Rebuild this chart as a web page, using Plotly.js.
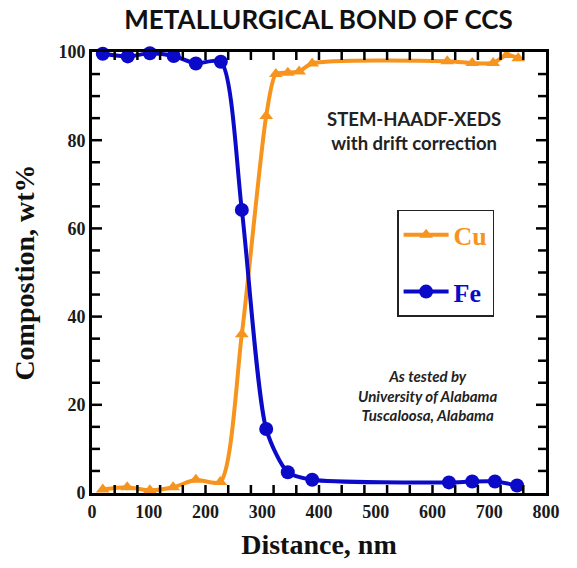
<!DOCTYPE html>
<html>
<head>
<meta charset="utf-8">
<script src="https://cdn.plot.ly/plotly-3.0.1.min.js"></script>
<style>html,body{margin:0;padding:0;background:#fff;}#chart{width:577px;height:568px;}</style>
</head>
<body>
<div id="chart"></div>
<script>
// Data
const cuDistance = [19, 62, 102, 143, 183, 226, 264, 307, 324, 345, 365, 388, 626, 670, 707, 731, 751];
const cuWt = [0.8, 1.3, 0.6, 1.3, 3.0, 2.5, 36, 85.5, 95, 95.3, 95.6, 97.4, 97.9, 97.5, 97.5, 99.3, 98.6];
const feDistance = [19, 63, 102, 144, 183, 227, 264, 307, 345, 388, 629, 670, 710, 749];
const feWt = [99.6, 99.0, 99.7, 99.1, 97.4, 97.8, 64.2, 14.5, 4.7, 3.0, 2.4, 2.6, 2.6, 1.7];
const xRange = [0, 800];
const yRange = [0, 100];
const xTickStep = 100;   // labelled x ticks: 0..800
const xMarkStep = 40;    // x tick marks
const yTickStep = 20;    // labelled y ticks: 0..100
const yMarkStep = 5;     // y tick marks

const orange = '#f7941d';
const blue = '#0a0ac8';

const traces = [
  {
    x: cuDistance, y: cuWt, type: 'scatter', mode: 'lines+markers',
    name: '<b><span style="color:' + orange + '">Cu</span></b>',
    legendgroup: 'cu',
    line: {color: orange, width: 4, shape: 'spline', smoothing: 0.7},
    marker: {symbol: 'triangle-up', size: 12, color: orange},
    cliponaxis: false
  },
  {
    x: feDistance, y: feWt, type: 'scatter', mode: 'lines+markers',
    name: '<b><span style="color:' + blue + '">Fe</span></b>',
    legendgroup: 'fe',
    line: {color: blue, width: 4, shape: 'spline', smoothing: 0.7},
    marker: {symbol: 'circle', size: 14, color: blue},
    cliponaxis: false
  }
];

// Tick marks on all four sides, built from the axis steps
const shapes = [];
const tickLine = {color: '#000', width: 2.5};
for (let v = xRange[0] + xMarkStep; v < xRange[1]; v += xMarkStep) {
  shapes.push({type: 'line', layer: 'above', xref: 'x', yref: 'y', ysizemode: 'pixel', yanchor: yRange[0], x0: v, x1: v, y0: 0, y1: 8, line: tickLine});
  shapes.push({type: 'line', layer: 'above', xref: 'x', yref: 'y', ysizemode: 'pixel', yanchor: yRange[1], x0: v, x1: v, y0: 0, y1: -8, line: tickLine});
}
for (let v = yRange[0] + yMarkStep; v < yRange[1]; v += yMarkStep) {
  const len = (v % yTickStep === 0) ? 10 : 8;
  shapes.push({type: 'line', layer: 'above', xref: 'x', yref: 'y', xsizemode: 'pixel', xanchor: xRange[0], y0: v, y1: v, x0: 0, x1: len, line: tickLine});
  shapes.push({type: 'line', layer: 'above', xref: 'x', yref: 'y', xsizemode: 'pixel', xanchor: xRange[1], y0: v, y1: v, x0: 0, x1: -len, line: tickLine});
}

const serif = 'Liberation Serif, Times New Roman, serif';
const tickFont = {family: serif, size: 18, color: '#1a1a1a'};

const layout = {
  width: 577, height: 568,
  margin: {l: 92, r: 31, t: 52, b: 75},
  paper_bgcolor: '#fff', plot_bgcolor: '#fff',
  showlegend: true,
  title: {
    text: '<b>METALLURGICAL BOND OF CCS</b>',
    font: {family: 'Lato, Open Sans, sans-serif', size: 26, color: '#111'},
    x: 0.552, xanchor: 'center', y: 0.965, yanchor: 'middle'
  },
  xaxis: {
    range: xRange, dtick: xTickStep,
    ticks: '', showgrid: false, zeroline: false,
    showline: true, linecolor: '#000', linewidth: 3, mirror: true,
    tickfont: tickFont, tickprefix: '<b>', ticksuffix: '</b>',
    title: {text: '<b>Distance, nm</b>', font: {family: serif, size: 28, color: '#111'}, standoff: 14}
  },
  yaxis: {
    range: yRange, dtick: yTickStep,
    ticks: '', showgrid: false, zeroline: false,
    showline: true, linecolor: '#000', linewidth: 3, mirror: true,
    tickfont: tickFont, tickprefix: '<b>', ticksuffix: '</b>',
    title: {text: '<b>Compostion, wt%</b>', font: {family: serif, size: 28, color: '#111'}, standoff: 16}
  },
  shapes: shapes,
  legend: {
    x: 0.672, y: 0.642, xanchor: 'left', yanchor: 'top',
    bgcolor: '#fff', bordercolor: '#222', borderwidth: 1.5,
    font: {family: serif, size: 26},
    traceorder: 'grouped', tracegroupgap: 20, itemwidth: 45
  },
  annotations: [
    {xref: 'paper', yref: 'paper', x: 0.71, y: 0.82, xanchor: 'center', yanchor: 'middle', showarrow: false,
     text: '<b>STEM-HAADF-XEDS</b><br><b>with drift correction</b>',
     font: {family: 'Lato, Open Sans, sans-serif', size: 18.5, color: '#222'}, align: 'center'},
    {xref: 'paper', yref: 'paper', x: 0.74, y: 0.22, xanchor: 'center', yanchor: 'middle', showarrow: false,
     text: '<b><i>As tested by</i></b><br><b><i>University of Alabama</i></b><br><b><i>Tuscaloosa, Alabama</i></b>',
     font: {family: 'Lato, Open Sans, sans-serif', size: 15, color: '#222'}, align: 'center'}
  ]
};

Plotly.newPlot('chart', traces, layout, {displayModeBar: false, staticPlot: true});
</script>
</body>
</html>
